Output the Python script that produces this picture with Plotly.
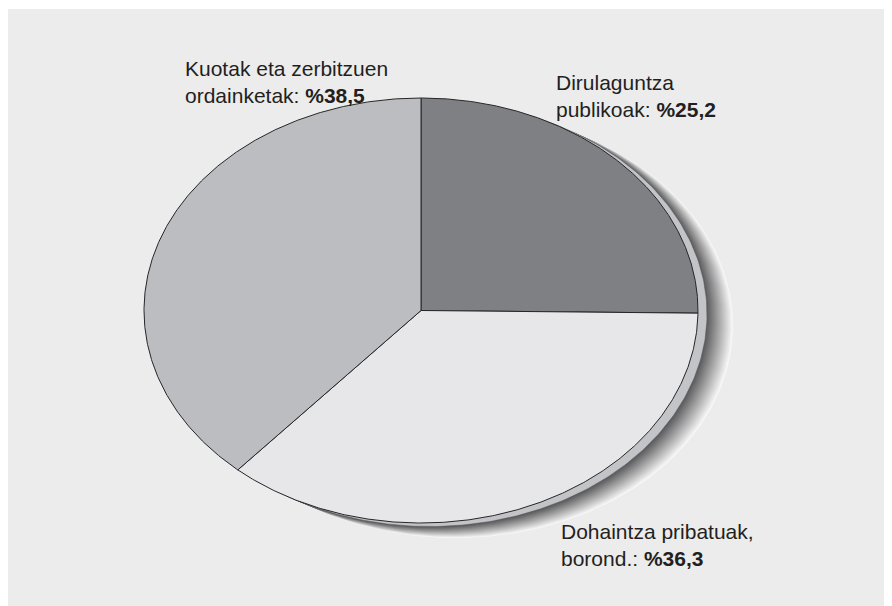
import numpy as np
import plotly.graph_objects as go

# ---- data ----
labels = ["Dirulaguntza publikoak", "Dohaintza pribatuak, borond.", "Kuotak eta zerbitzuen ordainketak"]
values = [25.2, 36.3, 38.5]
label_texts = [
    "Dirulaguntza<br>publikoak: <b>%25,2</b>",
    "Dohaintza pribatuak,<br>borond.: <b>%36,3</b>",
    "Kuotak eta zerbitzuen<br>ordainketak: <b>%38,5</b>",
]
slice_colors = ["#7f8084", "#e7e7e9", "#bcbdc1"]

# figure is placed at an 8px page offset
W, H = 884, 598
# pie ellipse geometry in pixels (layout)
CX, CY, RX, RY = 413, 302.5, 277, 212.5
xr = [-CX / RX, (W - CX) / RX]
yr = [-(H - CY) / RY, CY / RY]

fig = go.Figure()

def ellipse(dx=0.0, dy=0.0, n=400):
    t = np.linspace(0, 2 * np.pi, n)
    return np.sin(t) + dx, np.cos(t) + dy

# shadow (gradient crescent)
SHX, SHY = 35 / RX, -15 / RY
N = 30
dark = np.array([0x58, 0x58, 0x5a])
light = np.array([0xf8, 0xf8, 0xf8])
for k in range(N):
    t = 1 - k / N * 0.75  # 1 -> 0.25
    f = (t - 0.25) / 0.75  # 1 outer(light) -> 0 inner(dark)
    c = (dark + (light - dark) * f ** 1.0).astype(int)
    col = "rgb(%d,%d,%d)" % tuple(c)
    x, y = ellipse(SHX * t, SHY * t)
    fig.add_trace(go.Scatter(x=x, y=y, mode="lines", fill="toself", fillcolor=col,
                             line=dict(width=0), hoverinfo="skip", showlegend=False))

# rim
x, y = ellipse(9 / RX, -3.5 / RY)
fig.add_trace(go.Scatter(x=x, y=y, mode="lines", fill="toself", fillcolor="#c3c4c8",
                         line=dict(width=0.5, color="#55555a"), hoverinfo="skip", showlegend=False))

# slices
total = sum(values)
cum = 0.0
for lab, v, col in zip(labels, values, slice_colors):
    a0 = cum / total * 2 * np.pi
    cum += v
    a1 = cum / total * 2 * np.pi
    a = np.linspace(a0, a1, 300)
    xs = np.concatenate([[0], np.sin(a), [0]])
    ys = np.concatenate([[0], np.cos(a), [0]])
    fig.add_trace(go.Scatter(x=xs, y=ys, mode="lines", fill="toself", fillcolor=col,
                             line=dict(width=1, color="#262628"), name=lab,
                             hoverinfo="name", showlegend=False))

# labels
font = dict(family="Liberation Sans, Arial", size=21, color="#231f20")
label_pos = [(546, 61), (551, 510), (175, 47)]
for txt, (px, py) in zip(label_texts, label_pos):
    fig.add_annotation(x=px / W, y=1 - py / H, xref="paper", yref="paper", text=txt,
                       showarrow=False, xanchor="left", yanchor="top", align="left", font=font)

fig.add_shape(type="rect", xref="paper", yref="paper", x0=-0.01, x1=1.01, y0=-0.01, y1=1 - 1 / H,
              fillcolor="#ececec", line=dict(width=0), layer="below")

fig.update_layout(
    width=W, height=H, margin=dict(l=0, r=0, t=0, b=0),
    paper_bgcolor="white", plot_bgcolor="rgba(0,0,0,0)",
    xaxis=dict(range=xr, visible=False, fixedrange=True),
    yaxis=dict(range=yr, visible=False, fixedrange=True),
    showlegend=False,
)
fig.write_html("out.html")
